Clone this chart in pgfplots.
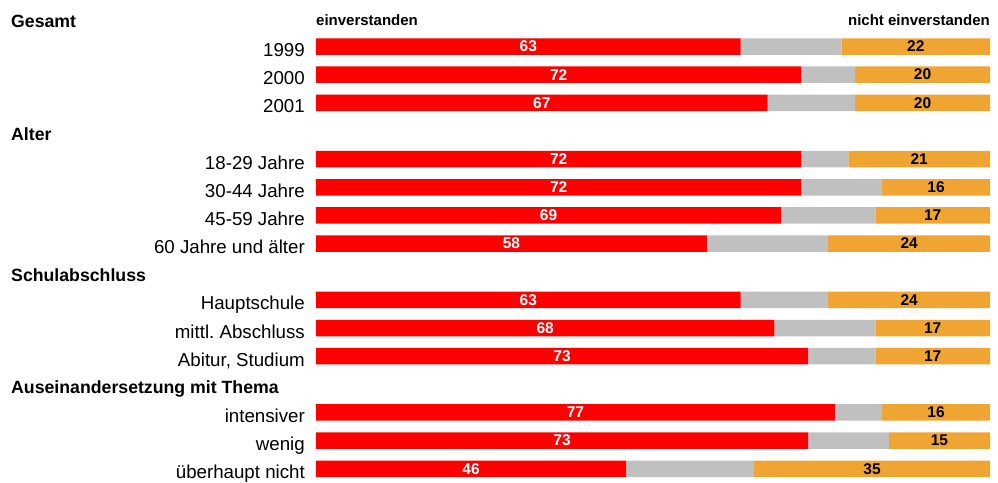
\documentclass[border=0pt]{standalone}
\usepackage{pgfplots}
\usepackage{pgfplotstable}
\pgfplotsset{compat=1.18}
\usepackage{fontspec}
\setmainfont{Liberation Sans}
\frenchspacing
\definecolor{cred}{HTML}{FF0000}
\definecolor{cgray}{HTML}{C0C0C0}
\definecolor{corange}{HTML}{F0A432}
\newcommand\lab{\fontsize{18.7}{20}\selectfont}
\newcommand\hdr{\fontsize{17.7}{20}\selectfont\bfseries}
\newcommand\val{\fontsize{15.5}{17}\selectfont\bfseries}
\newcommand\tlab{\fontsize{15}{17}\selectfont\bfseries}
\pgfplotstableread{
row red gray orange
1 63 15 22
2 72 8 20
3 67 13 20
5 72 7 21
6 72 12 16
7 69 14 17
8 58 18 24
10 63 13 24
11 68 15 17
12 73 10 17
14 77 7 16
15 73 12 15
16 46 19 35
}\data
\pgfplotsset{common/.style={
  width=674pt, height=482pt, scale only axis,
  xmin=0, xmax=100, ymin=-0.652, ymax=16.469, y dir=reverse,
  hide axis, clip=false}}
\tikzset{
  rl/.style={anchor=base east, xshift=-11pt, yshift=-10pt, inner sep=0pt, font=\lab},
  hd/.style={anchor=base west, yshift=-9.5pt, inner sep=0pt, font=\hdr}}
\begin{document}
\begin{tikzpicture}
\begin{axis}[common, name=main, xbar stacked, bar width=16.5pt]
\addplot[fill=cred, draw=none] table[x=red, y=row] {\data};
\addplot[fill=cgray, draw=none] table[x=gray, y=row] {\data};
\addplot[fill=corange, draw=none] table[x=orange, y=row] {\data};
\coordinate (bbtl) at (axis cs:-46.884,-0.652);
\coordinate (bbbr) at (axis cs:101.187,16.469);
% headers
\node[hd] at (axis cs:-45.25,0) {Gesamt};
\node[hd] at (axis cs:-45.25,4) {Alter};
\node[hd] at (axis cs:-45.25,9) {Schulabschluss};
\node[hd] at (axis cs:-45.25,13) {Auseinandersetzung mit Thema};
% top labels
\node[anchor=base west, yshift=-7.6pt, inner sep=0pt, font=\tlab] at (axis cs:0,0) {einverstanden};
\node[anchor=base east, yshift=-7.6pt, inner sep=0pt, font=\tlab] at (axis cs:100,0) {nicht einverstanden};
% row labels
\node[rl] at (axis cs:0,1) {1999};
\node[rl] at (axis cs:0,2) {2000};
\node[rl] at (axis cs:0,3) {2001};
\node[rl] at (axis cs:0,5) {18-29 Jahre};
\node[rl] at (axis cs:0,6) {30-44 Jahre};
\node[rl] at (axis cs:0,7) {45-59 Jahre};
\node[rl] at (axis cs:0,8) {60 Jahre und älter};
\node[rl] at (axis cs:0,10) {Hauptschule};
\node[rl] at (axis cs:0,11) {mittl.\ Abschluss};
\node[rl] at (axis cs:0,12) {Abitur, Studium};
\node[rl] at (axis cs:0,14) {intensiver};
\node[rl] at (axis cs:0,15) {wenig};
\node[rl] at (axis cs:0,16) {überhaupt nicht};
\end{axis}
\begin{axis}[common, at={(main.south west)}, anchor=south west,
  /pgf/number format/assume math mode=true]
\addplot[draw=none, mark=none, nodes near coords, point meta=explicit,
  every node near coord/.append style={anchor=center, inner sep=0pt, text=white, font=\val}]
  table[x expr=\thisrow{red}/2, y=row, meta=red] {\data};
\addplot[draw=none, mark=none, nodes near coords, point meta=explicit,
  every node near coord/.append style={anchor=center, inner sep=0pt, text=black, font=\val}]
  table[x expr=100-\thisrow{orange}/2, y=row, meta=orange] {\data};
\end{axis}
\pgfresetboundingbox
\path[use as bounding box] (bbtl) rectangle (bbbr);
\end{tikzpicture}
\end{document}
